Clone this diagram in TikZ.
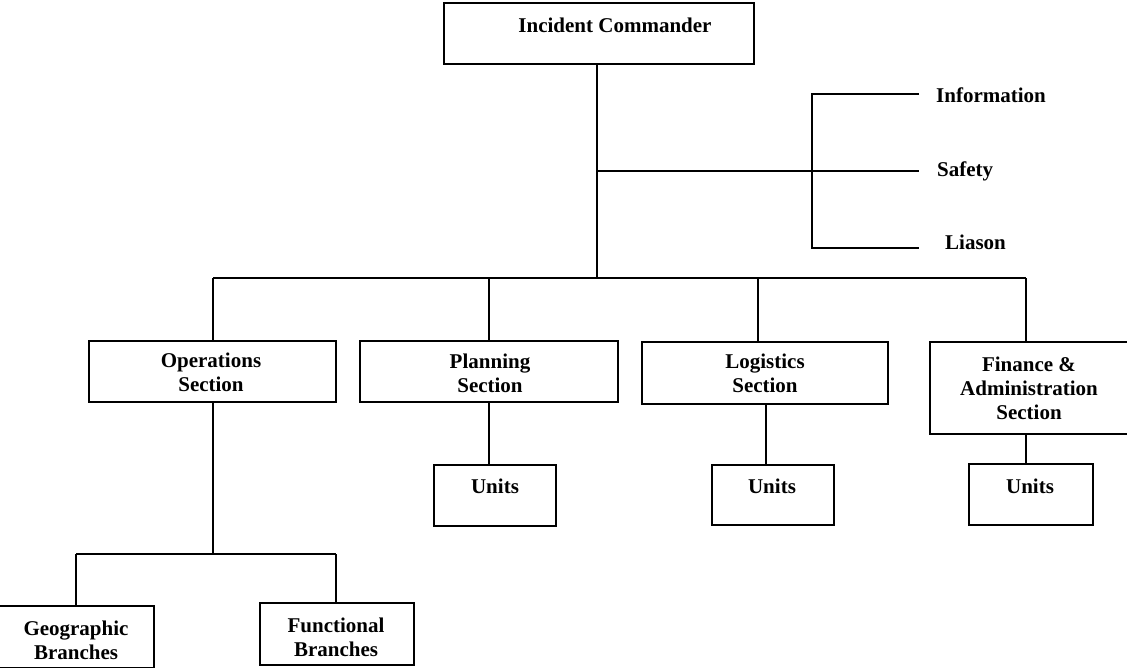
\documentclass[tikz,border=0pt]{standalone}
\usepackage{fontspec}
\setmainfont{Liberation Serif}
\begin{document}
\begin{tikzpicture}[x=1pt,y=-1pt,
  box/.style={draw,line width=2pt,inner sep=0pt,anchor=north west},
  lbl/.style={font=\fontsize{21}{24}\selectfont\bfseries,align=center,inner sep=0pt,anchor=base},
  side/.style={font=\fontsize{21}{24}\selectfont\bfseries,inner sep=0pt,anchor=base west},
  link/.style={line width=2pt}]
\useasboundingbox (0,0) rectangle (1127,667);
% boxes
\node[box,minimum width=310pt,minimum height=61pt] (ic) at (443,2) {};
\node[box,minimum width=247pt,minimum height=61pt] (ops) at (88,340) {};
\node[box,minimum width=258pt,minimum height=61pt] (plan) at (359,340) {};
\node[box,minimum width=246pt,minimum height=62pt] (log) at (641,341) {};
\node[box,minimum width=202pt,minimum height=92pt] (fin) at (929,341) {};
\node[box,minimum width=122pt,minimum height=61pt] (u1) at (433,464) {};
\node[box,minimum width=122pt,minimum height=60pt] (u2) at (711,464) {};
\node[box,minimum width=124pt,minimum height=61pt] (u3) at (968,463) {};
\node[box,minimum width=156pt,minimum height=62pt] (geo) at (-3,605) {};
\node[box,minimum width=154pt,minimum height=62pt] (fun) at (259,602) {};
% labels (base = baseline of the last line)
\node[lbl] (icT) at (615,32) {Incident Commander};
\node[lbl] (opsT) at (211,391) {Operations\\Section};
\node[lbl] (planT) at (490,392) {Planning\\Section};
\node[lbl] (logT) at (765,392) {Logistics\\Section};
\node[lbl] (finT) at (1029,419) {Finance \&\\Administration\\Section};
\node[lbl] (u1T) at (495,493) {Units};
\node[lbl] (u2T) at (772,493) {Units};
\node[lbl] (u3T) at (1030,493) {Units};
\node[lbl] (geoT) at (76,659) {Geographic\\Branches};
\node[lbl] (funT) at (336,656) {Functional\\Branches};
\node[side] (info) at (936,102) {Information};
\node[side] (safe) at (937,176) {Safety};
\node[side] (liai) at (945,249) {Liason};
% connector points
\coordinate (j) at (597,171);
\coordinate (bus) at (597,278);
\coordinate (bt) at (812,94);
\coordinate (bb) at (812,248);
\coordinate (e1) at (919,94);
\coordinate (e2) at (919,171);
\coordinate (e3) at (919,248);
\coordinate (t1) at (213,278);
\coordinate (t2) at (489,278);
\coordinate (t3) at (758,278);
\coordinate (t4) at (1026,278);
\coordinate (l1) at (766,403);
\coordinate (ob) at (213,554);
\coordinate (g1) at (76,554);
\coordinate (g2) at (336,554);
% connectors
\draw[link] (ic.south -| bus) -- (bus);
\draw[link] (j) -- (e2);
\draw[link] (e1) -- (bt) -- (bb) -- (e3);
\draw[link] (t1) -- (t4);
\draw[link] (t1) -- (t1 |- ops.north);
\draw[link] (t2) -- (t2 |- plan.north);
\draw[link] (t3) -- (t3 |- log.north);
\draw[link] (t4) -- (t4 |- fin.north);
\draw[link] (plan.south -| t2) -- (t2 |- u1.north);
\draw[link] (log.south -| l1) -- (l1 |- u2.north);
\draw[link] (fin.south -| t4) -- (t4 |- u3.north);
\draw[link] (ops.south -| t1) -- (ob);
\draw[link] (g1) -- (g2);
\draw[link] (g1) -- (g1 |- geo.north);
\draw[link] (g2) -- (g2 |- fun.north);
\end{tikzpicture}
\end{document}
